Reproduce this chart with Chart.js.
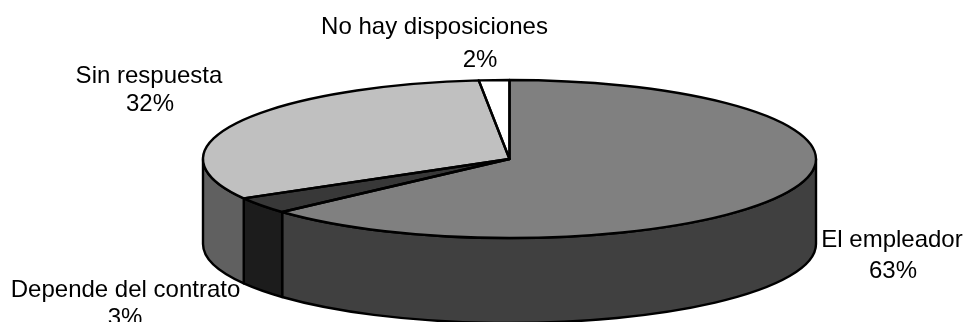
<!DOCTYPE html>
<html>
<head>
<meta charset="utf-8">
<script src="https://cdn.jsdelivr.net/npm/chart.js@4"></script>
<style>
html,body{margin:0;padding:0;background:#fff;overflow:hidden}
#wrap{position:relative;width:965px;height:322px}
</style>
</head>
<body>
<div id="wrap"><canvas id="c"></canvas></div>
<script>
const categories = ["El empleador", "Depende del contrato", "Sin respuesta", "No hay disposiciones"];
const values = [63.3, 3.4, 31.7, 1.6];
const percentLabels = ["63%", "3%", "32%", "2%"];
const topColors = ["#808080", "#383838", "#c0c0c0", "#ffffff"];
const sideColors = ["#404040", "#1c1c1c", "#606060", "#808080"];

// Layout of the flattened 3D pie and its labels (pixels)
const view = { cx: 509.5, cy: 159, rx: 306.5, ry: 79, depth: 85 };
const labelPlaces = [
  { name: [892, 247], pct: [893, 278] },
  { name: [125.5, 297], pct: [125, 325] },
  { name: [149, 83], pct: [150, 111] },
  { name: [434.5, 34], pct: [480, 67] }
];

const pie3d = {
  id: "pie3d",
  beforeDatasetsDraw(chart) {
    const ctx = chart.ctx, v = view;
    const arcs = chart.getDatasetMeta(0).data;
    ctx.save();
    ctx.lineWidth = 2.4;
    ctx.strokeStyle = "#000";
    ctx.lineJoin = "round";
    arcs.forEach((arc, i) => {
      const a0 = Math.max(arc.startAngle, 0), a1 = Math.min(arc.endAngle, Math.PI);
      if (a1 <= a0) return;
      ctx.beginPath();
      ctx.ellipse(v.cx, v.cy, v.rx, v.ry, 0, a0, a1);
      ctx.ellipse(v.cx, v.cy + v.depth, v.rx, v.ry, 0, a1, a0, true);
      ctx.closePath();
      ctx.fillStyle = sideColors[i];
      ctx.fill();
      ctx.stroke();
    });
    ctx.restore();
    // the library draws its own arcs through this squash
    const first = arcs[0];
    const r = first.outerRadius;
    ctx.save();
    ctx.translate(v.cx, v.cy);
    ctx.scale(v.rx / r, v.ry / r);
    ctx.translate(-first.x, -first.y);
  },
  afterDatasetsDraw(chart) {
    const ctx = chart.ctx, v = view;
    ctx.restore();
    const arcs = chart.getDatasetMeta(0).data;
    ctx.save();
    ctx.lineWidth = 2.4;
    ctx.strokeStyle = "#000";
    ctx.lineJoin = "round";
    arcs.forEach((arc) => {
      ctx.beginPath();
      ctx.moveTo(v.cx, v.cy);
      ctx.ellipse(v.cx, v.cy, v.rx, v.ry, 0, arc.startAngle, arc.endAngle);
      ctx.closePath();
      ctx.stroke();
    });
    ctx.fillStyle = "#000";
    ctx.font = "24px 'Liberation Sans', Arial, sans-serif";
    ctx.textAlign = "center";
    ctx.textBaseline = "alphabetic";
    categories.forEach((name, i) => {
      const p = labelPlaces[i];
      ctx.fillText(name, p.name[0], p.name[1]);
      ctx.fillText(percentLabels[i], p.pct[0], p.pct[1]);
    });
    ctx.restore();
  }
};

new Chart(document.getElementById("c"), {
  type: "pie",
  data: {
    labels: categories,
    datasets: [{
      data: values,
      backgroundColor: topColors,
      borderWidth: 0,
      clip: false
    }]
  },
  options: {
    responsive: true,
    maintainAspectRatio: false,
    animation: false,
    events: [],
    layout: { padding: 0 },
    plugins: { legend: { display: false }, tooltip: { enabled: false }, title: { display: false } }
  },
  plugins: [pie3d]
});
</script>
</body>
</html>
